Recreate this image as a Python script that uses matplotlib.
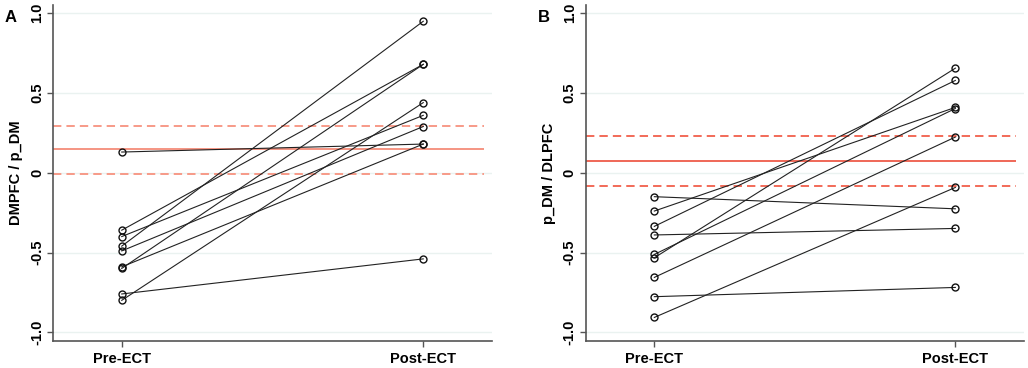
import matplotlib.pyplot as plt

# Dados
tempos = ['Pre-ECT', 'Post-ECT']

pre_a = [0.13, -0.36, -0.46, -0.60, -0.40, -0.49, -0.59, -0.76, -0.80]
post_a = [0.18, 0.68, 0.95, 0.68, 0.36, 0.29, 0.18, -0.54, 0.44]
media_a = 0.146
ic_a = [-0.006, 0.295]

pre_b = [-0.15, -0.24, -0.336, -0.39, -0.512, -0.533, -0.656, -0.777, -0.907]
post_b = [-0.226, 0.41, 0.579, -0.349, 0.403, 0.656, 0.224, -0.719, -0.092]
media_b = 0.073
ic_b = [-0.084, 0.230]

yticks = [-1.0, -0.5, 0.0, 0.5, 1.0]
ytick_labels = ['-1.0', '-0.5', '0', '0.5', '1.0']

plt.rcParams['font.family'] = ['Liberation Sans', 'DejaVu Sans']

fig = plt.figure(figsize=(10.28, 3.68), dpi=100)
ax_a = fig.add_axes([53 / 1028, 27.3 / 368, 439 / 1028, 335.7 / 368])
ax_b = fig.add_axes([585.7 / 1028, 27.3 / 368, 438.3 / 1028, 335.7 / 368])


def painel(ax, pre, post, media, ic, ylabel, letra, cor_media, cor_ic):
    x0, x1 = 0.772, 2.228
    for y in yticks:
        ax.axhline(y, color='#eaf2f0', lw=1.0, zorder=0)
    ax.hlines(media, x0, 2.2, color=cor_media, lw=1.3, zorder=1)
    for v in ic:
        ax.hlines(v, x0, 2.2, color=cor_ic, lw=1.4, linestyles=[(0, (4.3, 2.6))], zorder=1)
    for a, b in zip(pre, post):
        ax.plot([1, 2], [a, b], color='#222222', lw=0.8, marker='o',
                markersize=5, markerfacecolor='none', markeredgecolor='#111111',
                markeredgewidth=1.0, zorder=3)
    ax.set_xlim(x0, x1)
    ax.set_ylim(-1.053, 1.052)
    ax.set_xticks([1, 2])
    ax.set_xticklabels(tempos, fontsize=10.5, fontweight='bold')
    ax.set_yticks(yticks)
    ax.set_yticklabels(ytick_labels, fontsize=10.5, fontweight='bold', rotation=90, va='center')
    ax.set_ylabel(ylabel, fontsize=10.5, fontweight='bold', labelpad=5)
    for s in ['top', 'right']:
        ax.spines[s].set_visible(False)
    for s in ['left', 'bottom']:
        ax.spines[s].set_color('#555555')
        ax.spines[s].set_linewidth(1.2)
    ax.tick_params(axis='both', length=4, width=1, color='#555555', pad=4)
    ax.tick_params(axis='y', pad=2.5)
    ax.text(-0.11, 0.985, letra, transform=ax.transAxes, fontsize=12,
            fontweight='bold', ha='left', va='top')


painel(ax_a, pre_a, post_a, media_a, ic_a, 'DMPFC / p_DM', 'A', '#f48c7a', '#f79a88')
painel(ax_b, pre_b, post_b, media_b, ic_b, 'p_DM / DLPFC', 'B', '#ee5c4a', '#f26a58')

plt.savefig('out.png', dpi=100)
